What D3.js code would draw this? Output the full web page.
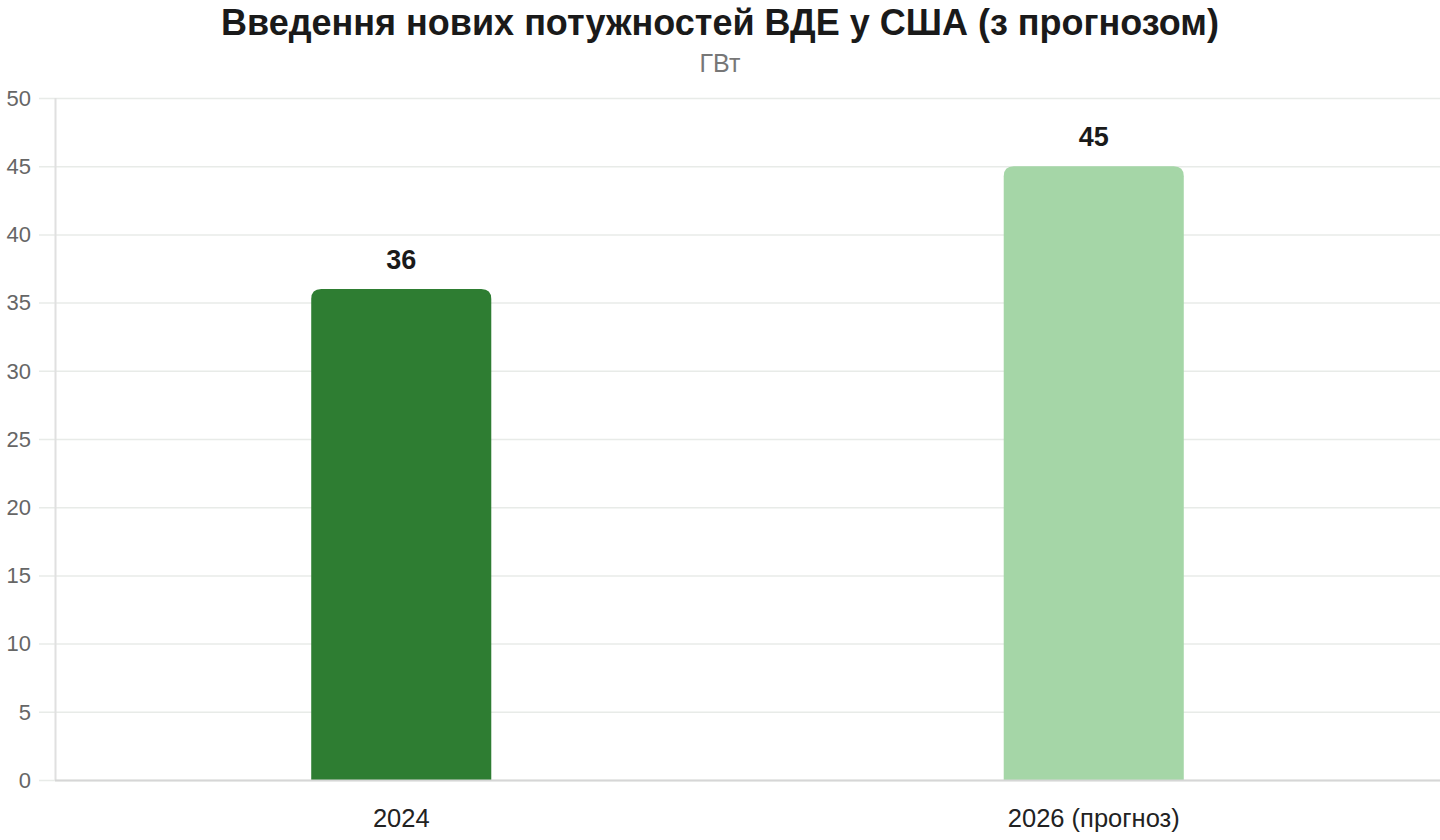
<!DOCTYPE html>
<html>
<head>
<meta charset="utf-8">
<script src="https://cdn.jsdelivr.net/npm/d3@7"></script>
<style>
  body { margin: 0; background: #fff; }
  svg { display: block; font-family: "Liberation Sans", Arial, sans-serif; }
</style>
</head>
<body>
<div id="chart"></div>
<script>
const categories = ["2024", "2026 (прогноз)"];
const values = [36, 45];
const barColors = ["#2e7d32", "#a5d6a7"];
const yTicks = [0, 5, 10, 15, 20, 25, 30, 35, 40, 45, 50];

const size = { width: 1440, height: 840 };
const margin = { top: 98, right: 0, bottom: 60, left: 55 };

const svg = d3.select("#chart").append("svg")
  .attr("width", size.width)
  .attr("height", size.height);

svg.append("text")
  .attr("x", size.width / 2)
  .attr("y", 35)
  .attr("text-anchor", "middle")
  .style("font-size", "36px")
  .style("font-weight", "bold")
  .attr("fill", "#1a1a1a")
  .text("Введення нових потужностей ВДЕ у США (з прогнозом)");

svg.append("text")
  .attr("x", size.width / 2)
  .attr("y", 72)
  .attr("text-anchor", "middle")
  .style("font-size", "25px")
  .attr("fill", "#777")
  .text("ГВт");

const x = d3.scaleBand()
  .domain(categories)
  .range([margin.left, size.width - margin.right])
  .paddingInner(0.74)
  .paddingOuter(0.37);

const y = d3.scaleLinear()
  .domain([0, 50])
  .range([size.height - margin.bottom, margin.top]);

// grid lines
svg.append("g")
  .selectAll("line")
  .data(yTicks)
  .join("line")
  .attr("x1", 39)
  .attr("x2", size.width)
  .attr("y1", d => y(d) + 0.5)
  .attr("y2", d => y(d) + 0.5)
  .attr("stroke", "#e8ebe8")
  .attr("stroke-width", 1.5);

// y axis labels
svg.append("g")
  .selectAll("text")
  .data(yTicks)
  .join("text")
  .attr("x", 31)
  .attr("y", d => y(d))
  .attr("dy", "0.35em")
  .attr("text-anchor", "end")
  .style("font-size", "22px")
  .attr("fill", "#666")
  .text(d => d);

// y axis line
svg.append("line")
  .attr("x1", margin.left + 0.5)
  .attr("x2", margin.left + 0.5)
  .attr("y1", y(50))
  .attr("y2", y(0))
  .attr("stroke", "#e0e0e0")
  .attr("stroke-width", 2);

// bars with rounded tops
const r = 10;
const barPath = (d, i) => {
  const x0 = x(categories[i]), w = x.bandwidth();
  const y0 = y(0), y1 = y(d);
  return `M${x0},${y0}V${y1 + r}Q${x0},${y1} ${x0 + r},${y1}H${x0 + w - r}Q${x0 + w},${y1} ${x0 + w},${y1 + r}V${y0}Z`;
};

svg.append("g")
  .selectAll("path")
  .data(values)
  .join("path")
  .attr("d", barPath)
  .attr("fill", (d, i) => barColors[i]);

// baseline
svg.append("line")
  .attr("x1", margin.left)
  .attr("x2", size.width)
  .attr("y1", y(0) + 0.5)
  .attr("y2", y(0) + 0.5)
  .attr("stroke", "#d6d6d6")
  .attr("stroke-width", 2);

// value labels
svg.append("g")
  .selectAll("text")
  .data(values)
  .join("text")
  .attr("x", (d, i) => x(categories[i]) + x.bandwidth() / 2)
  .attr("y", d => y(d) - 20)
  .attr("text-anchor", "middle")
  .style("font-size", "27px")
  .style("font-weight", "bold")
  .attr("fill", "#1a1a1a")
  .text(d => d);

// x labels
svg.append("g")
  .selectAll("text")
  .data(categories)
  .join("text")
  .attr("x", d => x(d) + x.bandwidth() / 2)
  .attr("y", y(0) + 47)
  .attr("text-anchor", "middle")
  .style("font-size", "25.5px")
  .attr("fill", "#222")
  .text(d => d);
</script>
</body>
</html>
